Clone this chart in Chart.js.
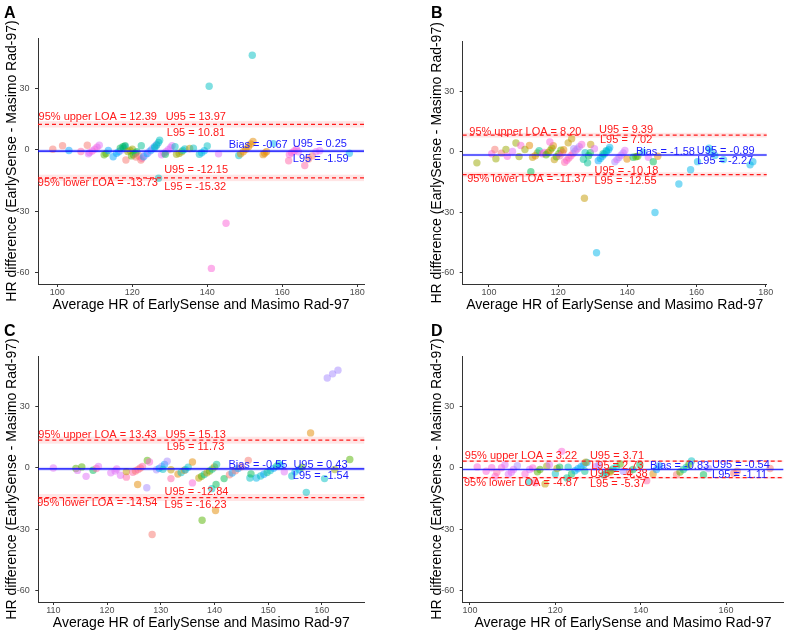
<!DOCTYPE html>
<html>
<head>
<meta charset="utf-8">
<script src="https://cdn.jsdelivr.net/npm/chart.js@4.4.0/dist/chart.umd.min.js"></script>
<style>
  html, body { margin: 0; padding: 0; background: #fff; }
  #page { position: relative; width: 787px; height: 637px; overflow: hidden; }
  .panel { position: absolute; }
  .tag { position: absolute; font: bold 16px "Liberation Sans", Arial, sans-serif; line-height: 16px; color: #000; }
</style>
</head>
<body>
<div id="page">
  <div class="panel" style="left:0;top:0;width:393px;height:318px"><canvas id="c0"></canvas></div>
  <div class="panel" style="left:393px;top:0;width:394px;height:318px"><canvas id="c1"></canvas></div>
  <div class="panel" style="left:0;top:318px;width:393px;height:319px"><canvas id="c2"></canvas></div>
  <div class="panel" style="left:393px;top:318px;width:394px;height:319px"><canvas id="c3"></canvas></div>
  <div class="tag" style="left:4px;top:5px">A</div>
  <div class="tag" style="left:431px;top:5px">B</div>
  <div class="tag" style="left:4px;top:323px">C</div>
  <div class="tag" style="left:431px;top:323px">D</div>
</div>
<script>
// ggplot hue palette, one colour per subject
const palette = ['#F8766D', '#E38900', '#C49A00', '#99A800', '#53B400', '#00BC56', '#00C094',
                 '#00BFC4', '#00B6EB', '#06A4FF', '#A58AFF', '#DF70F8', '#FB61D7', '#FF66A8'];

// Panel A
const avgA = [98.8,101.4,103.1,106.3,108.0,108.3,108.6,109.3,110.0,110.6,111.2,112.5,113.0,113.6,114.9,115.8,116.4,117.0,117.6,118.0,116.8,117.5,118.1,118.3,118.8,119.4,120.0,119.8,120.3,120.8,121.2,121.0,121.8,122.3,122.6,122.4,123.0,123.5,124.0,124.5,125.0,125.5,126.0,126.5,126.0,126.5,127.0,127.3,127.0,127.8,128.4,129.0,129.6,130.2,130.6,128.8,131.4,131.8,132.5,133.2,133.5,134.0,135.3,136.3,137.9,138.5,139.2,140.0,140.5,141.1,143.0,145.0,148.4,148.9,149.6,150.3,151.0,151.6,152.2,152.0,154.9,155.3,155.8,157.6,161.7,161.9,162.5,163.2,163.8,164.3,166.0,167.0,168.0,169.0,170.0,177.9];
const diffA = [0.2,2.0,-0.4,-0.9,2.2,-2.0,-1.4,-0.6,0.3,1.2,2.2,-2.5,-1.8,-0.4,-3.4,-1.7,-1.0,-0.2,0.8,1.6,0.8,1.5,2.0,-5.0,-0.9,-0.4,0.2,-3.0,-2.4,-1.7,-1.0,-3.6,-3.0,-5.0,-4.2,2.0,-3.4,-2.6,-1.8,-1.0,-0.2,0.7,1.6,2.6,1.0,2.2,3.5,4.6,-13.9,-2.5,-1.8,-1.0,0.0,1.0,2.0,-2.2,1.5,-2.2,-1.8,-1.0,-0.3,0.4,0.6,0.7,-2.2,-1.5,-0.5,1.8,31.0,-57.9,-2.0,-35.9,-2.8,-2.0,-1.0,0.2,1.5,2.8,4.0,46.1,-2.4,-1.7,-1.0,3.0,-5.4,-2.3,-1.5,-0.6,0.3,-1.0,-7.7,-4.5,-3.0,-1.0,-0.5,-1.7];
const subjA = [0,0,9,13,0,11,11,12,11,12,11,4,4,9,9,9,9,10,9,9,5,5,5,0,3,3,3,4,4,5,5,0,0,0,13,6,9,10,9,10,9,10,9,10,7,7,7,7,7,11,11,11,11,11,11,5,7,3,3,3,7,7,2,7,7,8,8,7,7,12,11,12,7,1,1,1,1,1,1,7,1,1,1,8,13,12,12,12,12,11,13,0,0,11,11,8];

// Panel B
const avgB = [96.5,100.8,101.7,102.0,103.6,104.9,105.3,106.8,107.8,108.7,109.2,110.4,111.7,112.1,112.6,113.4,114.0,114.5,115.5,116.0,116.5,117.1,117.7,118.2,118.6,117.6,118.9,119.5,120.2,120.8,120.5,121.3,121.6,121.9,122.5,123.1,123.7,124.3,124.9,125.5,126.1,126.8,122.9,123.9,124.5,127.6,127.3,127.8,128.5,128.8,129.3,129.4,130.5,131.6,132.2,132.8,133.4,134.0,134.6,134.9,131.1,133.0,133.9,136.4,137.0,137.6,138.2,138.8,139.3,139.9,141.7,142.5,143.0,144.6,146.1,147.5,148.0,148.8,154.9,158.3,160.3,163.6,164.2,165.3,167.8,175.5,176.3];
const diffB = [-5.5,-1.0,1.1,-3.5,-0.7,1.1,-2.2,0.1,4.3,-2.4,3.1,1.1,3.1,-9.9,-2.7,-2.0,-0.6,0.5,-1.0,-0.4,-1.5,-0.5,0.7,1.8,3.0,4.8,-3.9,-2.5,-1.0,0.8,-2.0,-0.5,1.0,-5.2,-4.2,-3.1,-2.0,-0.9,0.3,1.4,2.5,3.6,4.4,6.4,1.5,-23.0,-3.7,-0.5,-5.5,-2.0,-0.5,3.6,1.5,-4.4,-3.3,-2.2,-1.1,0.0,1.0,2.1,-50.0,-1.0,0.5,-5.0,-3.9,-2.8,-1.7,-0.6,0.6,-3.6,-2.7,-2.5,-2.2,-0.2,-2.7,-4.9,-30.1,-2.2,-16.0,-8.9,-4.9,1.7,0.0,-1.8,-3.9,-6.5,-4.9];
const subjB = [3,12,0,3,0,3,12,11,3,3,12,3,1,5,2,1,3,6,12,12,4,4,1,4,1,12,2,4,4,4,13,13,1,13,12,13,12,13,10,12,10,12,2,2,10,2,6,7,6,5,5,2,11,9,8,9,8,9,8,8,8,6,7,10,11,10,11,10,11,1,5,4,4,8,11,5,8,1,8,8,8,8,8,8,8,8,8];

// Panel C
const avgC = [110.0,114.2,114.5,115.3,116.1,117.4,118.0,118.4,120.7,121.5,121.8,122.5,123.6,123.6,124.8,125.3,125.8,126.2,126.6,125.7,127.5,127.9,127.4,128.4,129.2,129.7,130.2,130.7,130.4,131.2,131.9,131.9,133.2,133.8,134.4,135.1,134.6,135.9,135.9,137.1,137.6,138.1,138.6,139.1,139.6,140.0,140.4,137.7,139.5,140.2,140.3,141.8,142.8,143.3,143.9,144.4,145.0,146.3,146.6,146.8,147.8,148.6,149.2,149.8,150.4,151.0,151.6,152.0,152.4,153.0,154.4,155.0,155.8,156.3,157.1,157.9,160.5,161.0,162.0,163.0,162.4,165.2];
const diffC = [-0.1,-0.4,-1.3,0.4,-4.2,-1.2,-0.4,0.6,-2.5,-1.6,-0.6,-3.7,-4.6,-1.9,-2.2,-1.6,-0.9,-0.1,0.6,-8.2,3.5,2.8,-9.8,-32.6,-1.0,-0.3,0.6,1.6,-0.8,3.2,-1.0,-5.3,-3.1,-2.3,-1.2,0.2,-1.0,2.8,-7.4,-5.0,-4.2,-3.3,-2.5,-1.6,-0.6,0.4,1.6,-25.6,-10.2,-20.9,-8.2,-5.3,-3.4,-2.6,-1.5,-0.4,0.5,3.6,-5.0,-3.0,-5.0,-4.0,-3.2,-2.3,-1.4,-0.3,0.8,2.0,1.0,-2.0,-4.0,-2.0,-1.0,0.3,-12.0,17.0,-5.3,43.8,45.8,47.6,-0.9,4.0];
const subjC = [11,4,11,4,11,5,13,11,11,11,11,11,13,2,13,0,13,0,13,1,4,12,10,0,10,9,10,9,7,10,2,13,1,7,1,7,8,1,12,2,4,6,2,4,6,2,6,4,7,1,5,5,0,9,0,9,0,0,7,5,8,7,9,6,7,9,6,7,9,11,7,8,8,4,7,1,7,10,10,10,3,4];

// Panel D
const avgD = [101.7,103.8,105.1,105.9,106.3,107.4,108.2,109.0,109.7,110.2,111.1,112.9,113.9,114.0,114.7,115.3,115.8,116.4,117.6,118.0,118.6,120.0,120.4,121.5,121.0,122.7,123.0,123.8,124.6,125.3,126.0,126.7,127.4,126.9,127.1,129.4,130.2,131.3,132.0,132.8,133.5,134.3,135.2,132.9,135.9,137.4,138.2,139.8,141.4,142.9,143.7,144.4,148.4,149.2,150.0,150.7,151.3,151.9,154.7,155.9,161.8,162.6,170.3];
const diffD = [0.4,-1.7,0.0,-4.2,-2.2,0.0,1.5,-3.2,-2.2,-0.9,1.0,-3.0,-6.9,-0.9,-0.1,-7.3,-2.0,-0.9,-7.9,0.7,1.5,-2.9,-0.4,8.0,0.3,-5.0,0.2,-3.0,-1.5,-0.5,0.5,1.6,2.6,-1.7,2.7,0.5,1.5,-3.4,-2.5,-1.6,-0.6,0.4,1.8,-2.1,-1.7,-2.2,-0.9,1.5,-6.3,-3.0,-0.9,1.0,-3.4,-2.1,-0.9,0.3,1.6,3.3,-3.4,-0.4,-2.7,-1.7,-0.4];
const subjD = [12,12,12,12,13,12,11,11,11,11,10,12,7,11,12,13,4,4,2,3,11,7,2,12,5,6,7,5,8,9,8,9,8,6,2,11,10,6,7,4,6,7,4,1,10,0,5,5,13,1,9,9,0,4,6,7,4,7,5,10,0,0,0];

// Bland-Altman statistics per panel (A, B, C, D)
const bias     = [-0.67, -1.58, -0.55, -0.83];
const biasHi   = [0.25, -0.89, 0.43, -0.54];
const biasLo   = [-1.59, -2.27, -1.54, -1.11];
const loaUpper = [12.39, 8.20, 13.43, 3.22];
const upperHi  = [13.97, 9.39, 15.13, 3.71];
const upperLo  = [10.81, 7.02, 11.73, 2.73];
const loaLower = [-13.73, -11.37, -14.54, -4.87];
const lowerHi  = [-12.15, -10.18, -12.84, -4.38];
const lowerLo  = [-15.32, -12.55, -16.23, -5.37];

// axes
const xMin = [94.85, 92.4, 107.2, 98.3];
const xMax = [181.8, 180.3, 167.9, 173.4];
const xTicks = [[100, 120, 140, 160, 180], [100, 120, 140, 160, 180], [110, 120, 130, 140, 150, 160], [100, 120, 140, 160]];
const yTicks = [-60, -30, 0, 30];
const yMin = -65.5, yMax = 54.5;
const xTitle = 'Average HR of EarlySense and Masimo Rad-97';
const yTitle = 'HR difference (EarlySense - Masimo Rad-97)';

// where the annotation texts sit, in data units:
// upper LOA, U95, L95, bias, U95, L95, U95, lower LOA, L95
const labelX = [
  [95.0, 128.9, 129.2, 145.7, 162.8, 162.8, 128.5, 94.8, 128.5],
  [94.3, 131.8, 132.1, 142.5, 160.1, 160.2, 130.5, 93.7, 130.5],
  [107.2, 130.9, 131.1, 142.6, 154.7, 154.6, 130.7, 107.0, 130.7],
  [98.8, 128.1, 128.4, 142.2, 156.7, 156.7, 128.1, 98.6, 128.1]
];
const labelY = [
  [15.9, 16.2, 8.2, 2.3, 2.8, -4.3, -9.9, -16.3, -18.0],
  [9.8, 10.6, 5.6, 0.1, 0.4, -4.4, -9.4, -13.5, -14.3],
  [15.9, 16.2, 10.0, 1.5, 1.5, -4.1, -11.8, -17.2, -18.0],
  [5.9, 5.9, 1.0, 0.7, 1.5, -3.4, -3.0, -7.4, -7.9]
];

const panels = [
  { avg: avgA, diff: diffA, subj: subjA },
  { avg: avgB, diff: diffB, subj: subjB },
  { avg: avgC, diff: diffC, subj: subjC },
  { avg: avgD, diff: diffD, subj: subjD }
];

// layout of each panel inside its box
const pads = [
  { left: 0, top: 38, right: 29, bottom: 0 },
  { left: 31.7, top: 41.7, right: 20.3, bottom: 0 },
  { left: 0.3, top: 38, right: 28.7, bottom: 0 },
  { left: 31.7, top: 38, right: 3.7, bottom: 0 }
];
const xAxisH = [34, 34, 35, 35];

const FONT = '"Liberation Sans", Arial, sans-serif';
const RED = '#ff1a1a';
const BLUE = '#1a1aff';

function withAlpha(hex, a) {
    const n = parseInt(hex.slice(1), 16);
    return `rgba(${(n >> 16) & 255},${(n >> 8) & 255},${n & 255},${a})`;
}

const f2 = v => v.toFixed(2);

// bands, reference lines and the annotation texts
const baPlugin = {
    id: 'blandAltman',
    beforeDatasetsDraw(chart, args, opts) {
        const i = opts.panel;
        const { ctx, chartArea: a, scales: { y } } = chart;
        const band = (hi, lo, color) => {
            const y1 = y.getPixelForValue(hi), y2 = y.getPixelForValue(lo);
            ctx.fillStyle = color;
            ctx.fillRect(a.left, y1, a.right - a.left, y2 - y1);
        };
        ctx.save();
        band(upperHi[i], upperLo[i], 'rgba(255,0,0,0.1)');
        band(lowerHi[i], lowerLo[i], 'rgba(255,0,0,0.1)');
        band(biasHi[i], biasLo[i], 'rgba(0,0,255,0.12)');
        ctx.restore();
    },
    afterDatasetsDraw(chart, args, opts) {
        const i = opts.panel;
        const { ctx, chartArea: a, scales: { x, y } } = chart;
        const hline = (v, color, width, dash) => {
            const py = y.getPixelForValue(v);
            ctx.beginPath();
            ctx.setLineDash(dash);
            ctx.strokeStyle = color;
            ctx.lineWidth = width;
            ctx.moveTo(a.left, py);
            ctx.lineTo(a.right, py);
            ctx.stroke();
        };
        ctx.save();
        hline(loaUpper[i], RED, 1.2, [4, 3]);
        hline(loaLower[i], RED, 1.2, [4, 3]);
        hline(bias[i], 'rgba(0,0,255,0.75)', 1.6, []);
        ctx.setLineDash([]);

        const texts = [
            `95% upper LOA = ${f2(loaUpper[i])}`, `U95 = ${f2(upperHi[i])}`, `L95 = ${f2(upperLo[i])}`,
            `Bias = ${f2(bias[i])}`, `U95 = ${f2(biasHi[i])}`, `L95 = ${f2(biasLo[i])}`,
            `U95 = ${f2(lowerHi[i])}`, `95% lower LOA = ${f2(loaLower[i])}`, `L95 = ${f2(lowerLo[i])}`
        ];
        const colors = [RED, RED, RED, BLUE, BLUE, BLUE, RED, RED, RED];
        ctx.font = `11px ${FONT}`;
        ctx.textAlign = 'left';
        ctx.textBaseline = 'middle';
        texts.forEach((t, k) => {
            ctx.fillStyle = colors[k];
            ctx.fillText(t, x.getPixelForValue(labelX[i][k]), y.getPixelForValue(labelY[i][k]));
        });
        ctx.restore();
    }
};

panels.forEach((p, i) => {
    const points = p.avg.map((v, k) => ({ x: v, y: p.diff[k] }));
    const colors = p.subj.map(s => withAlpha(palette[s], 0.5));

    new Chart(document.getElementById('c' + i), {
        type: 'scatter',
        data: {
            datasets: [{
                data: points,
                backgroundColor: colors,
                borderWidth: 0,
                pointRadius: 3.7,
                pointHoverRadius: 3.7
            }]
        },
        options: {
            responsive: true,
            maintainAspectRatio: false,
            animation: false,
            events: [],
            layout: { padding: pads[i] },
            plugins: {
                legend: { display: false },
                tooltip: { enabled: false },
                blandAltman: { panel: i }
            },
            scales: {
                x: {
                    type: 'linear',
                    min: xMin[i],
                    max: xMax[i],
                    afterBuildTicks: s => { s.ticks = xTicks[i].map(v => ({ value: v })); },
                    afterFit: s => { s.height = xAxisH[i]; },
                    ticks: { font: { family: FONT, size: 9 }, color: '#4d4d4d', padding: 0, autoSkip: false, maxRotation: 0 },
                    grid: { display: true, drawOnChartArea: false, drawTicks: true, tickLength: 3, color: '#333' },
                    border: { display: true, color: '#333', width: 1 },
                    title: {
                        display: true, text: xTitle, color: '#000',
                        font: { family: FONT, size: 14 },
                        padding: { top: 0, bottom: i < 2 ? 4.6 : 5.6 }
                    }
                },
                y: {
                    type: 'linear',
                    min: yMin,
                    max: yMax,
                    afterBuildTicks: s => { s.ticks = yTicks.map(v => ({ value: v })); },
                    afterFit: s => { s.width = 38; },
                    ticks: { font: { family: FONT, size: 9 }, color: '#4d4d4d', padding: 5.5, autoSkip: false },
                    grid: { display: true, drawOnChartArea: false, drawTicks: true, tickLength: 3, color: '#333' },
                    border: { display: true, color: '#333', width: 1 },
                    title: {
                        display: true, text: yTitle, color: '#000',
                        font: { family: FONT, size: 14 },
                        padding: { top: 3.6, bottom: 0 }
                    }
                }
            }
        },
        plugins: [baPlugin]
    });
});
</script>
</body>
</html>
